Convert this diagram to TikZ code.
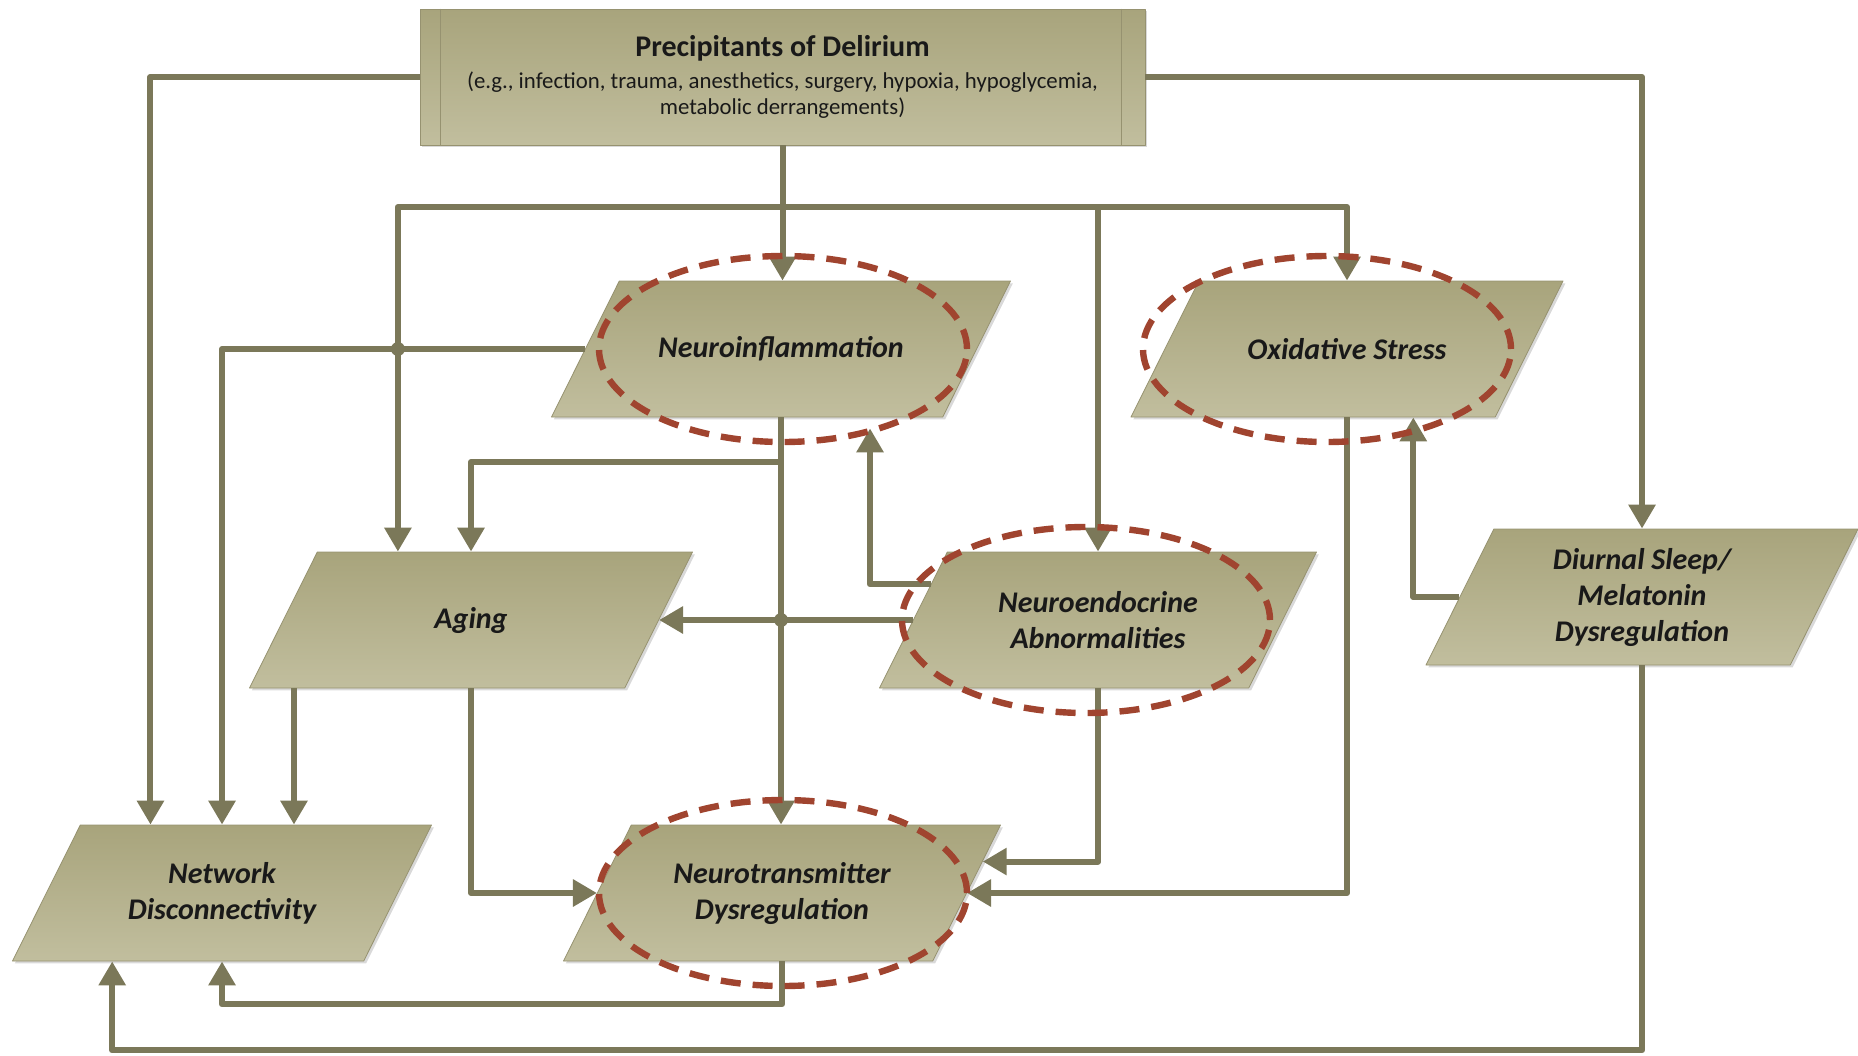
\documentclass[tikz,border=0pt]{standalone}
\usepackage{fontspec}
\setmainfont{Carlito}
\usepackage{xcolor}
\usepackage{tikz}
\usetikzlibrary{shapes.geometric}
\usetikzlibrary{arrows.meta}
\usetikzlibrary{calc}
\usetikzlibrary{shadows}
\definecolor{olivel}{RGB}{123,120,89}
\definecolor{boxtop}{RGB}{168,164,124}
\definecolor{boxbot}{RGB}{193,190,158}
\definecolor{boxline}{RGB}{150,146,112}
\definecolor{ringred}{RGB}{160,68,47}
\newcommand{\ftext}[1]{\parbox[c][68pt][c]{130pt}{\centering #1}}
\tikzset{
    factor/.style = {trapezium, trapezium left angle=63.5, trapezium right angle=116.5, trapezium stretches body=true, draw=boxline, line width=0.4pt, top color=boxtop, bottom color=boxbot, inner sep=0pt, minimum width=218.5pt, text=black!90, font=\fontsize{15}{18}\selectfont\bfseries\itshape, drop shadow={shadow xshift=1.2pt, shadow yshift=-1.2pt, opacity=0.3}},
    cause/.style = {rectangle, draw=boxline, line width=0.4pt, top color=boxtop, bottom color=boxbot, align=center, inner sep=0pt, minimum width=362.5pt, minimum height=68pt, text=black!90, font=\fontsize{11.4}{13}\selectfont, drop shadow={shadow xshift=1.2pt, shadow yshift=-1.2pt, opacity=0.3}},
    ring/.style = {ellipse, draw=ringred, line width=3.2pt, dash pattern=on 10pt off 6pt, minimum width=184pt, minimum height=93pt, inner sep=0pt},
}

\begin{document}
\begin{tikzpicture}[x=0.5pt, y=-0.5pt, line join=round]
\tikzset{
    conn/.style = {line width=3pt, draw=olivel},
    arr/.style = {conn, -{Triangle[length=12pt, width=13pt]}}
}
\useasboundingbox (0,0) rectangle (1858,1055);
\node[cause] at (782.5,77) (precip) {{\fontsize{15}{18}\selectfont\bfseries Precipitants of Delirium}\\[3pt]
    (e.g., infection, trauma, anesthetics, surgery, hypoxia, hypoglycemia,\\
    metabolic derrangements)};
\draw[boxline] ([xshift=10.5pt]precip.north west) -- ([xshift=10.5pt]precip.south west);
\draw[boxline] ([xshift=-12pt]precip.north east) -- ([xshift=-12pt]precip.south east);
%
\node[factor, minimum width=229.5pt] at (781,349) (inflam) {\ftext{Neuroinflammation}};
\node[factor, minimum width=216pt] at (1347,349) (oxid) {\ftext{Oxidative Stress}};
\node[factor, minimum width=221.5pt] at (471,620) (aging) {\ftext{Aging}};
\node[factor] at (1098,620) (endo) {\ftext{Neuroendocrine\\Abnormalities}};
\node[factor, minimum width=216pt] at (1642,597) (sleep) {\ftext{Diurnal Sleep/\\Melatonin\\Dysregulation}};
\node[factor, minimum width=209.5pt] at (222,893) (network) {\ftext{Network\\Disconnectivity}};
\node[factor] at (782,893) (transm) {\ftext{Neurotransmitter\\Dysregulation}};
%
\coordinate (bus) at (782.5,207);
\coordinate (split) at (781,462);
\coordinate (agtop) at ($(aging.top left corner)!0.215!(aging.top right corner)$);
\coordinate (agbot) at ($(aging.bottom left corner)!0.12!(aging.bottom right corner)$);
%
\draw[arr] (precip.south) -- (precip.south |- inflam.north);
\draw[arr] (bus) -| (agtop);
\draw[arr] (bus) -| (endo.north);
\draw[arr] (bus) -| (oxid.north);
\draw[arr] (precip.west) -| ($(network.top left corner)!0.2!(network.top right corner)$);
\draw[arr] (precip.east) -| (sleep.north);
%
\draw[arr] (inflam.left side) -| (network.north);
\draw[arr] (inflam.south) -- (inflam.south |- transm.north);
\draw[arr] (split) -| (aging.north);
%
\draw[arr] (endo.left side) -- (aging.right side);
\draw[arr] ($(endo.top left corner)!0.24!(endo.bottom left corner)$) -| ($(inflam.bottom left corner)!0.814!(inflam.bottom right corner) + (0,11)$);
\draw[arr] (endo.south) |- ($(transm.top right corner)!0.27!(transm.bottom right corner)$);
\draw[arr] (oxid.south) |- (transm.right side);
%
\draw[arr] (sleep.left side) -| ($(oxid.bottom left corner)!0.775!(oxid.bottom right corner)$);
\draw[arr] (sleep.south) -- ++(0,385) -| ($(network.bottom left corner)!0.285!(network.bottom right corner)$);
%
\draw[arr] (agbot) -- (agbot |- network.north);
\draw[arr] (aging.south) |- (transm.left side);
\draw[arr] (transm.south) -- ++(0,43) -| (network.south);
%
\fill[olivel] (agtop |- inflam.left side) circle (3.5pt);
\fill[olivel] (inflam.south |- aging.right side) circle (3.5pt);
%
\node[ring] at (783,349) (ring1) {};
\node[ring] at (1327,349) (ring2) {};
\node[ring] at (1086,620) (ring3) {};
\node[ring] at (783,893) (ring4) {};
\end{tikzpicture}
\end{document}
